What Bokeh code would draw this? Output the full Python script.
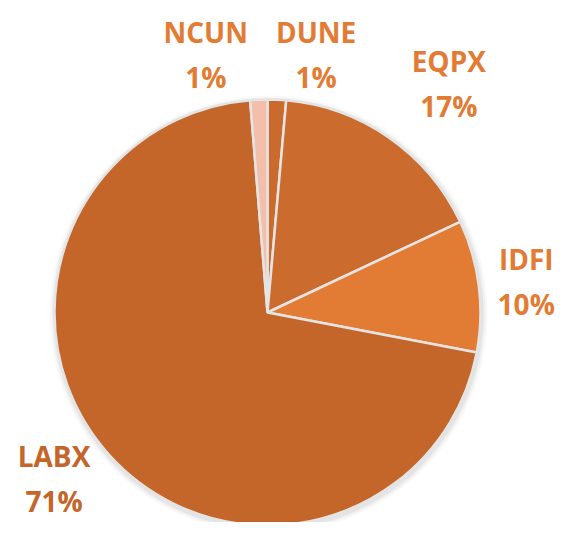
import math
from bokeh.plotting import figure
from bokeh.models import Range1d, ColumnDataSource
from bokeh.core.properties import value
from bokeh.embed import file_html
from bokeh.resources import INLINE

# ---- data ----
categories = ["DUNE", "EQPX", "IDFI", "LABX", "NCUN"]
shares = [1.4, 16.6, 10.0, 70.7, 1.3]
slice_colors = ["#CA6A2C", "#CB6B2D", "#E27B33", "#C4652A", "#F3BEAA"]
label_colors = ["#E27B33", "#E27B33", "#E27B33", "#C4652A", "#E27B33"]

# ---- layout ----
W, H = 563, 522
CX, CY = 267, 210      # pie centre in plot coords (y up)
R = 213
LABEL_R = 287
# nudges (px) so labels sit where the reference puts them
nudge_x = [36, 17, -26, 0, -50]
nudge_y = [-28, -6, -4, 26, -28]

total = sum(shares)
starts, ends, lx, ly, names, pcts = [], [], [], [], [], []
cum = 0.0
for i, v in enumerate(shares):
    a0 = math.pi / 2 - 2 * math.pi * cum / total
    cum += v
    a1 = math.pi / 2 - 2 * math.pi * cum / total
    starts.append(a0)
    ends.append(a1)
    mid = (a0 + a1) / 2
    lx.append(CX + LABEL_R * math.cos(mid) + nudge_x[i])
    ly.append(CY + LABEL_R * math.sin(mid) + nudge_y[i])
    names.append(categories[i])
    pcts.append(f"{round(v / total * 100)}%")

src = ColumnDataSource(dict(start=starts, end=ends, color=slice_colors,
                            lx=lx, ly=ly, name=names, pct=pcts,
                            lcolor=label_colors))

p = figure(width=W, height=H, output_backend="svg", toolbar_location=None,
           x_range=Range1d(0, W), y_range=Range1d(0, H),
           min_border=0, outline_line_color=None)
p.axis.visible = False
p.grid.visible = False
p.background_fill_color = "white"
p.border_fill_color = "white"

# soft shadow
for k, a in [(6, 0.05), (4, 0.07), (2, 0.10)]:
    p.circle(x=CX + 1, y=CY - 2, radius=R + k, fill_color="#808080",
             fill_alpha=a, line_color=None)

p.wedge(x=CX, y=CY, radius=R, start_angle="start", end_angle="end",
        direction="clock", fill_color="color", line_color="#E4E4E4",
        line_width=2.5, source=src)

p.text(x="lx", y="ly", text="name", source=src, y_offset=-22,
       text_align="center", text_baseline="middle",
       text_font=value("Open Sans"), text_font_style="bold",
       text_font_size="28px", text_color="lcolor")
p.text(x="lx", y="ly", text="pct", source=src, y_offset=23,
       text_align="center", text_baseline="middle",
       text_font=value("Open Sans"), text_font_style="bold",
       text_font_size="28px", text_color="lcolor")

open("out.html", "w").write(file_html(p, INLINE))
